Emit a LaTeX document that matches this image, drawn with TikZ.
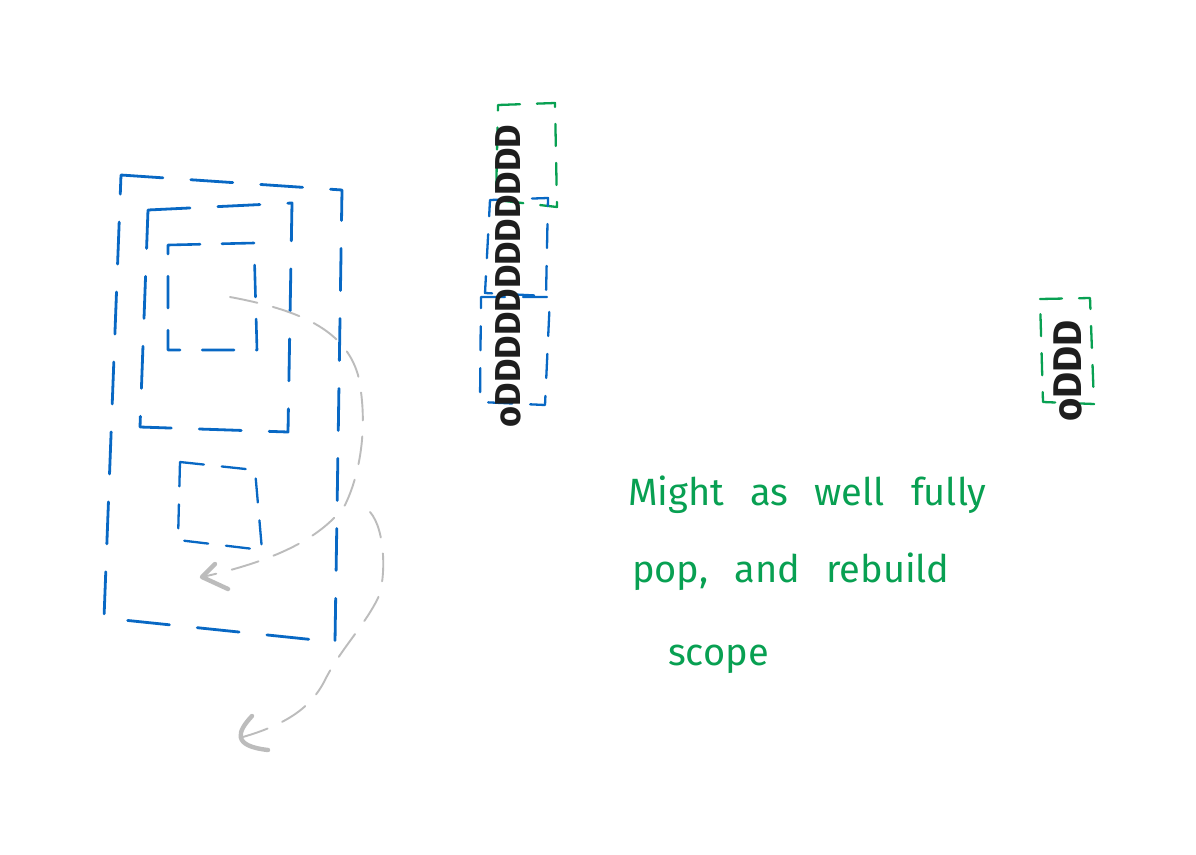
\documentclass[tikz,border=0pt]{standalone}
\usepackage{fontspec}
\setmainfont{Fira Sans}
\newfontfamily\handfont[WordSpace=2.6]{Fira Sans}
\usetikzlibrary{calc}
\definecolor{skblue}{RGB}{8,104,196}
\definecolor{skgreen}{RGB}{8,160,82}
\definecolor{skgray}{RGB}{188,188,188}
\definecolor{skink}{RGB}{30,30,30}
\begin{document}
\begin{tikzpicture}[x=1pt,y=-1pt,
  bluebig/.style={draw=skblue,line width=2.8pt,dash pattern=on 42pt off 28pt,line cap=round,line join=round},
  bluemid/.style={draw=skblue,line width=2.6pt,dash pattern=on 32pt off 22pt,line cap=round,line join=round},
  bluesmall/.style={draw=skblue,line width=2.3pt,dash pattern=on 24pt off 18pt,line cap=round,line join=round},
  greenbox/.style={draw=skgreen,line width=2.3pt,dash pattern=on 22pt off 17pt,line cap=round,line join=round},
  graycurve/.style={draw=skgray,line width=1.9pt,dash pattern=on 28pt off 16pt,line cap=round},
  grayhead/.style={draw=skgray,line width=4.4pt,line cap=round,line join=round},
  stacktext/.style={text=skink,rotate=90,inner sep=0pt,anchor=center},
  notetext/.style={text=skgreen,anchor=base west,inner sep=0pt,font=\handfont\fontsize{38}{40}\selectfont}]
\useasboundingbox[fill=white] (0,0) rectangle (1196,854);

% nested frames on the left
\draw[bluebig] (121,175) -- (342,190) -- (335,642) -- (104,618) -- cycle;
\draw[bluebig] (148,210) -- (292,203) -- (288,432) -- (140,427) -- cycle;
\draw[bluemid] (168,245) -- (254,243) -- (257,350) -- (168,350) -- cycle;
\draw[bluesmall] (180,462) -- (255,470) -- (262,550) -- (178,540) -- cycle;

% gray dashed arrows
\coordinate (a1s) at (230,297);
\coordinate (a1t) at (202,577);
\coordinate (a2s) at (370,512);
\coordinate (a2t) at (232,740);
\draw[graycurve] (a1s) .. controls (300,310) and (345,330) .. (358,375)
  .. controls (368,420) and (362,470) .. (345,505)
  .. controls (320,540) and (270,562) .. (a1t);
\draw[grayhead] ($(a1t)+(13,-13)$) -- (a1t) -- ($(a1t)+(26,12)$);
\draw[graycurve] (a2s) .. controls (386,530) and (386,580) .. (378,598)
  .. controls (365,625) and (340,650) .. (325,680)
  .. controls (310,710) and (282,727) .. (a2t);
\draw[grayhead] ($(a2t)+(20,-24)$) .. controls ($(a2t)+(5,-8)$) and ($(a2t)+(0,6)$) .. ($(a2t)+(36,10)$);

% stack column, middle
\draw[greenbox] (498,105) -- (555,103) -- (557,207) -- (496,200) -- cycle;
\draw[bluesmall] (490,200) -- (548,198) -- (546,296) -- (485,293) -- cycle;
\draw[bluesmall] (481,297) -- (550,297) -- (545,405) -- (480,402) -- cycle;
\node[stacktext,font=\bfseries\fontsize{36}{36}\selectfont] (stack1) at (508,276) {oDDDDDDDDDDDD};

% stack column, right
\draw[greenbox] (1040,299) -- (1090,298) -- (1094,404) -- (1043,402) -- cycle;
\node[stacktext,font=\bfseries\fontsize{40}{40}\selectfont] (stack2) at (1068,371) {oDDD};

% note
\node[notetext] (note1) at (628,505) {Might as well fully};
\node[notetext] (note2) at (632,582) {pop, and rebuild};
\node[notetext] (note3) at (668,665) {scope};
\end{tikzpicture}
\end{document}
